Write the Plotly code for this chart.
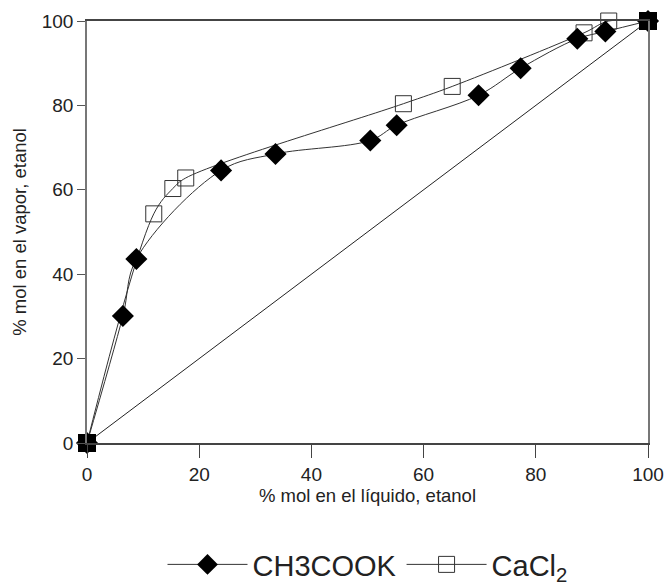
import plotly.graph_objects as go

# Liquid / vapour composition of ethanol (mol %) with two added salts
ch3cook_x = [0, 6.4, 8.8, 23.9, 33.6, 50.5, 55.2, 69.8, 77.3, 87.4, 92.4, 100]
ch3cook_y = [0, 30.1, 43.6, 64.6, 68.5, 71.7, 75.3, 82.4, 88.8, 95.8, 97.5, 100]

cacl2_x = [0, 11.9, 15.3, 17.6, 56.4, 65.1, 88.6, 93.0, 100]
cacl2_y = [0, 54.3, 60.3, 62.8, 80.4, 84.5, 97.2, 100, 100]

# Pure-component end points and the x = y reference line
end_x = [0, 100]
end_y = [0, 100]

x_ticks = [0, 20, 40, 60, 80, 100]
y_ticks = [0, 20, 40, 60, 80, 100]

FONT = "Arial, Liberation Sans, sans-serif"
INK = "#222222"

fig = go.Figure()

fig.add_trace(go.Scatter(
    x=end_x, y=end_y, mode="lines",
    line=dict(color=INK, width=1), showlegend=False, hoverinfo="skip",
))

fig.add_trace(go.Scatter(
    x=cacl2_x, y=cacl2_y, mode="lines+markers", name="CaCl<sub>2</sub>",
    line=dict(color="#333333", width=1, shape="spline", smoothing=1),
    marker=dict(symbol="square-open", size=16, color="#333333",
                line=dict(width=1, color="#333333")),
    cliponaxis=False,
))

fig.add_trace(go.Scatter(
    x=ch3cook_x, y=ch3cook_y, mode="lines+markers", name="CH3COOK",
    line=dict(color="#333333", width=1, shape="spline", smoothing=1),
    marker=dict(symbol="diamond", size=17, color="black"),
    cliponaxis=False,
))

fig.add_trace(go.Scatter(
    x=end_x, y=end_y, mode="markers",
    marker=dict(symbol="square", size=18, color="black"),
    showlegend=False, hoverinfo="skip", cliponaxis=False,
))

fig.update_layout(
    width=668, height=586,
    margin=dict(l=87, r=20, t=21, b=143, autoexpand=False),
    paper_bgcolor="white", plot_bgcolor="white",
    font=dict(family=FONT, size=19, color=INK),
    legend=dict(
        orientation="h", x=0.5, xanchor="center", y=-0.288, yanchor="middle",
        font=dict(size=29, color=INK), traceorder="reversed",
        itemwidth=80, bgcolor="rgba(0,0,0,0)",
    ),
)

fig.update_xaxes(
    range=[0, 100], tickvals=x_ticks, showgrid=False, zeroline=False,
    showline=True, linecolor="#444444", linewidth=1.5, mirror=True,
    ticks="outside", ticklen=13, tickcolor="#444444",
    tickfont=dict(size=19), automargin=False,
    title=dict(text="% mol en el líquido, etanol", font=dict(size=18.5), standoff=6),
)
fig.update_yaxes(
    range=[0, 100], tickvals=y_ticks, showgrid=False, zeroline=False,
    showline=True, linecolor="#777777", linewidth=1.5, mirror=True,
    ticks="outside", ticklen=8, tickcolor="#555555",
    tickfont=dict(size=19), automargin=False,
    title=dict(text="% mol en el vapor, etanol", font=dict(size=18.5), standoff=10),
)

fig.write_html("out.html")
